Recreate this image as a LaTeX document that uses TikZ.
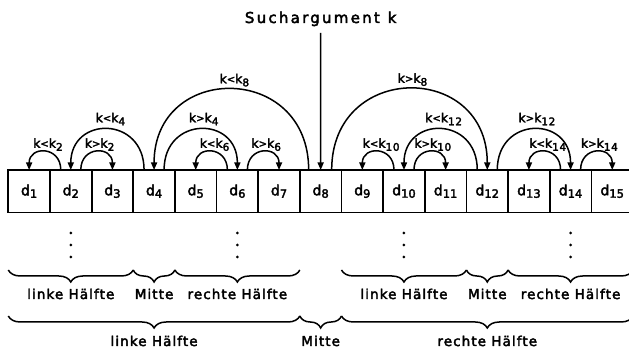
\documentclass[tikz,border=0pt]{standalone}
\usepackage{fontspec}
\setmainfont[FakeBold=2.8]{DejaVu Sans}
\newfontfamily\tagfont[LetterSpace=6,FakeBold=2.8]{DejaVu Sans}
\newfontfamily\partfont[LetterSpace=8,FakeBold=2.8]{DejaVu Sans}
\newfontfamily\headfont[LetterSpace=15,FakeBold=2.8]{DejaVu Sans}
\usetikzlibrary{arrows.meta,decorations.pathreplacing}

% cell label d_i and comparison label k<k_i
\newcommand\cellname[1]{{\fontsize{14}{14}\selectfont d}\raisebox{-2.5pt}{\fontsize{11.5}{11.5}\selectfont #1}}
\newcommand\cmp[2]{k{\fontsize{10}{10}\selectfont\raisebox{0.6pt}{#1}}k\raisebox{-3pt}{\fontsize{10.5}{10.5}\selectfont #2}}

\tikzset{
  cellbox/.style={draw, line width=1.8pt, minimum width=41.65pt, minimum height=42.5pt,
    inner sep=0pt, outer sep=0pt},
  jump/.style={line width=1.5pt, -{Triangle[length=7.5pt,width=6pt]}},
  tag/.style={font=\tagfont\fontsize{12.5}{12.5}\selectfont, anchor=base, inner sep=0pt, xshift=3pt},
  part/.style={font=\partfont\fontsize{13.5}{13.5}\selectfont, anchor=base, inner sep=0pt},
  brc/.style={decorate, decoration={brace, mirror, amplitude=12pt}, line width=1.5pt},
  small/.style={looseness=1.97},
  medium/.style={looseness=1.9},
  large/.style={looseness=1.785}
}

\begin{document}
\begin{tikzpicture}[x=1pt,y=1pt]
\useasboundingbox (0,0) rectangle (629,350);
\clip (0,0) rectangle (629,350);

% the sorted array d_1 ... d_15
\foreach \i in {1,...,15}
  \node[cellbox] (d\i) at ({8.3+(\i-0.5)*41.65},158.75) {\cellname{\i}};
\draw[line width=2.6pt] (d1.north west) -- (d15.north east);

% search key entering at the middle element
\node[font=\headfont\fontsize{15}{15}\selectfont, anchor=base, inner sep=0pt]
  (such) at (320.7,327) {Suchargument\hspace{8pt}k};
\coordinate (feed) at (320.675,317);
\draw[jump] (feed) -- (d8.north);

% first comparison
\draw[jump] ([xshift=-12pt]d8.north) to[out=90,in=90,large]
  node[tag,pos=.5,yshift=6pt] {\cmp{<}{8}} (d4.north);
\draw[jump] ([xshift=11pt]d8.north) to[out=90,in=90,large]
  node[tag,pos=.5,yshift=6pt] {\cmp{>}{8}} (d12.north);

% second comparison
\draw[jump] ([xshift=-10pt]d4.north) to[out=90,in=90,medium]
  node[tag,pos=.5,yshift=7pt] {\cmp{<}{4}} (d2.north);
\draw[jump] ([xshift=10pt]d4.north) to[out=90,in=90,medium]
  node[tag,pos=.5,yshift=7pt] {\cmp{>}{4}} (d6.north);
\draw[jump] ([xshift=-10pt]d12.north) to[out=90,in=90,medium]
  node[tag,pos=.5,yshift=7pt] {\cmp{<}{12}} (d10.north);
\draw[jump] ([xshift=10pt]d12.north) to[out=90,in=90,medium]
  node[tag,pos=.5,yshift=7pt] {\cmp{>}{12}} (d14.north);

% third comparison
\draw[jump] ([xshift=-10pt]d2.north) to[out=90,in=90,small]
  node[tag,pos=.5,yshift=4pt] {\cmp{<}{2}} (d1.north);
\draw[jump] ([xshift=10pt]d2.north) to[out=90,in=90,small]
  node[tag,pos=.5,yshift=4pt] {\cmp{>}{2}} (d3.north);
\draw[jump] ([xshift=-10pt]d6.north) to[out=90,in=90,small]
  node[tag,pos=.5,yshift=4pt] {\cmp{<}{6}} (d5.north);
\draw[jump] ([xshift=10pt]d6.north) to[out=90,in=90,small]
  node[tag,pos=.5,yshift=4pt] {\cmp{>}{6}} (d7.north);
\draw[jump] ([xshift=-10pt]d10.north) to[out=90,in=90,small]
  node[tag,pos=.5,yshift=4pt] {\cmp{<}{10}} (d9.north);
\draw[jump] ([xshift=10pt]d10.north) to[out=90,in=90,small]
  node[tag,pos=.5,yshift=4pt] {\cmp{>}{10}} (d11.north);
\draw[jump] ([xshift=-10pt]d14.north) to[out=90,in=90,small]
  node[tag,pos=.5,yshift=4pt] {\cmp{<}{14}} (d13.north);
\draw[jump] ([xshift=10pt]d14.north) to[out=90,in=90,small]
  node[tag,pos=.5,yshift=4pt] {\cmp{>}{14}} (d15.north);

% vertical dots below the quarter midpoints
\foreach \c in {d2,d6,d10,d14}
  \foreach \yy in {117,105,93}
    \fill (\c |- 0,\yy) circle (1.5pt);

% inner partition
\draw[brc] (d1.west |- 0,80) -- (d3.east |- 0,80);
\draw[brc] (d4.west |- 0,80) -- (d4.east |- 0,80);
\draw[brc] (d5.west |- 0,80) -- (d7.east |- 0,80);
\draw[brc] (d9.west |- 0,80) -- (d11.east |- 0,80);
\draw[brc] (d12.west |- 0,80) -- (d12.east |- 0,80);
\draw[brc] (d13.west |- 0,80) -- (d15.east |- 0,80);
\node[part] (l1) at (d2 |- 0,51) {linke Hälfte};
\node[part] (m1) at (d4 |- 0,51) {Mitte};
\node[part] (r1) at (d6 |- 0,51) {rechte Hälfte};
\node[part] (l2) at (d10 |- 0,51) {linke Hälfte};
\node[part] (m2) at (d12 |- 0,51) {Mitte};
\node[part] (r2) at (d14 |- 0,51) {rechte Hälfte};

% outer partition
\draw[brc] (d1.west |- 0,34) -- (d7.east |- 0,34);
\draw[brc] (d8.west |- 0,34) -- (d8.east |- 0,34);
\draw[brc] (d9.west |- 0,34) -- (d15.east |- 0,34);
\node[part] (l0) at (d4 |- 0,4) {linke Hälfte};
\node[part] (m0) at (d8 |- 0,4) {Mitte};
\node[part] (r0) at (d12 |- 0,4) {rechte Hälfte};
\end{tikzpicture}
\end{document}
